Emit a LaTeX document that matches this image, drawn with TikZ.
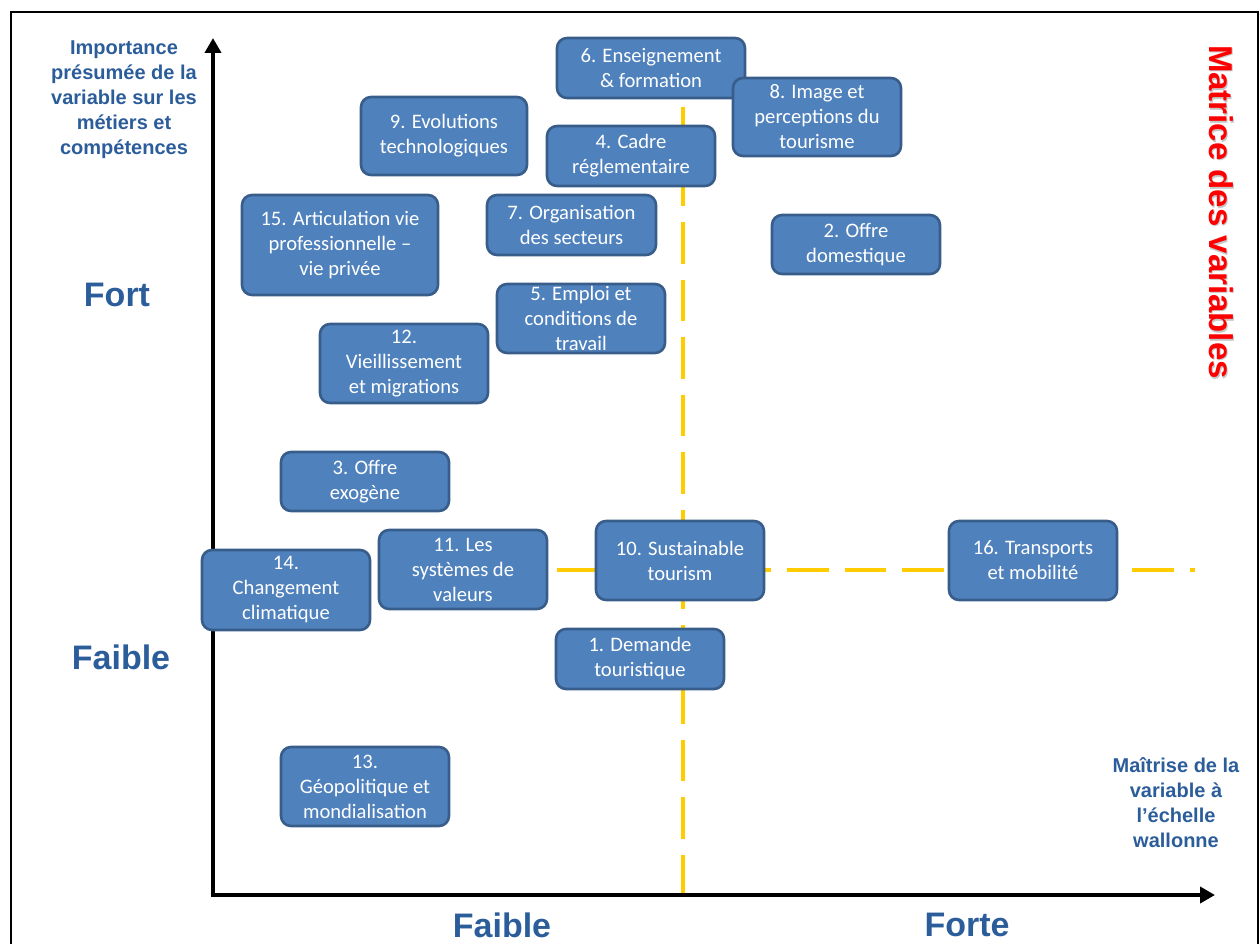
\documentclass[tikz,border=0pt]{standalone}
\usepackage{fontspec}
\setmainfont{Liberation Sans}
\newfontfamily\boxfont{Carlito}
\usetikzlibrary{arrows.meta}

\definecolor{boxfill}{HTML}{4F81BD}
\definecolor{boxline}{HTML}{385D8A}
\definecolor{labelblue}{HTML}{2C5D9B}
\definecolor{dashyellow}{HTML}{FFCC00}

\tikzset{
	varbox/.style = {draw = boxline, fill = boxfill, line width = 2.6pt, rounded corners = 10pt,
		text = white, align = center, inner sep = 0pt, minimum width = 168pt, minimum height = 60pt,
		font = \boxfont\fontsize{20.6pt}{25pt}\selectfont},
	axislabel/.style = {text = labelblue, font = \bfseries\fontsize{34pt}{36pt}\selectfont},
	axistitle/.style = {text = labelblue, align = center, font = \bfseries\fontsize{20pt}{25pt}\selectfont},
	axisline/.style = {line width = 4.5pt, -{Triangle[length = 15pt, width = 16pt]}},
	seuil/.style = {dashyellow, line width = 4.5pt, dash pattern = on 41.5pt off 16pt},
	titrefont/.style = {rotate = -90, font = \bfseries\fontsize{33pt}{36pt}\selectfont}
}

\begin{document}
\begin{tikzpicture}[x = 1pt, y = 1pt, yscale = -1]
	\useasboundingbox (0, 0) rectangle (1260, 944);

	% Cadre:
	\draw [line width = 2.5pt] (11, 950) -- (11, 12) -- (1258, 12) -- (1258, 950);

	% Seuils:
	\draw [seuil] (683, 107) -- (683, 895);
	\draw [seuil] (557, 570) -- (1195, 570);

	% Axes:
	\coordinate (origine) at (213, 895);
	\coordinate (haut) at (213, 38);
	\coordinate (droite) at (1215, 895);
	\draw [axisline] (origine) -- (haut);
	\draw [axisline] ([xshift = -2.25pt] origine) -- (droite);

	% Titres des axes
	\node [axistitle] (titrey) at (124, 100) {Importance\\présumée de la\\variable sur les\\métiers et\\compétences};
	\node [axistitle] (titrex) at (1176, 803) {Maîtrise de la\\variable à\\l’échelle\\wallonne};
	\node [axislabel] (fort) at (117, 295) {Fort};
	\node [axislabel] (faibley) at (121, 657) {Faible};
	\node [axislabel] (faiblex) at (502, 925) {Faible};
	\node [axislabel] (fortex) at (967, 925) {Forte};
	\node [titrefont, text = black!22] (ombre) at (1222.5, 213.5) {Matrice des variables};
	\node [titrefont, text = red] (titre) at (1221, 212) {Matrice des variables};

	% Variables
	\node [varbox, minimum width = 188pt] (v6) at (651, 68) {6. Enseignement\\\& formation};
	\node [varbox, minimum height = 78pt] (v8) at (817, 117) {8. Image et\\perceptions du\\tourisme};
	\node [varbox, minimum width = 166pt, minimum height = 78pt] (v9) at (444, 136) {9. Evolutions\\technologiques};
	\node [varbox] (v4) at (631, 156) {4. Cadre\\réglementaire};
	\node [varbox, minimum width = 196pt, minimum height = 100pt] (v15) at (340, 245) {15. Articulation vie\\professionnelle –\\vie privée};
	\node [varbox, minimum width = 169pt] (v7) at (571.5, 225) {7. Organisation\\des secteurs};
	\node [varbox, minimum height = 59pt] (v2) at (856, 244.5) {2. Offre\\domestique};
	\node [varbox, minimum height = 69pt] (v5) at (581, 318.5) {5. Emploi et\\conditions de\\travail};
	\node [varbox, minimum height = 79pt] (v12) at (404, 363.5) {12.\\Vieillissement\\et migrations};
	\node [varbox, minimum height = 59pt] (v3) at (365, 481.5) {3. Offre\\exogène};
	\node [varbox, minimum height = 80pt] (v14) at (286, 590) {14.\\Changement\\climatique};
	\node [varbox, minimum height = 79pt] (v11) at (463, 569.5) {11. Les\\systèmes de\\valeurs};
	\node [varbox, minimum height = 79pt] (v10) at (680, 560.5) {10. Sustainable\\tourism};
	\node [varbox, minimum height = 79pt] (v16) at (1033, 560.5) {16. Transports\\et mobilité};
	\node [varbox] (v1) at (640, 659) {1. Demande\\touristique};
	\node [varbox, minimum height = 79pt] (v13) at (365, 786.5) {13.\\Géopolitique et\\mondialisation};
\end{tikzpicture}
\end{document}
